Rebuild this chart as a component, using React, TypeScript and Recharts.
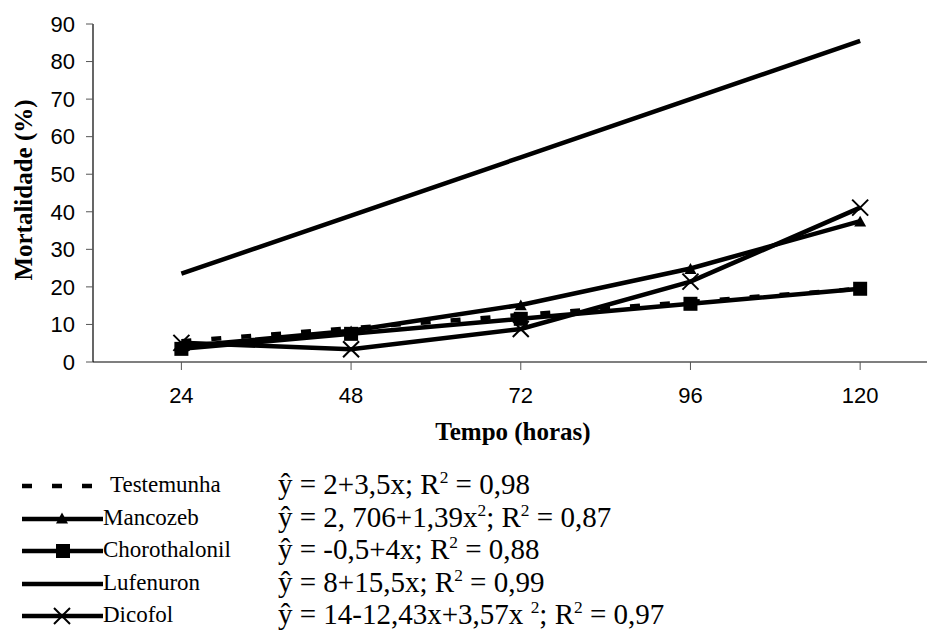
import { Label, Line, LineChart, XAxis, YAxis } from "recharts";

const hours = [24, 48, 72, 96, 120];
const yTicks = [0, 10, 20, 30, 40, 50, 60, 70, 80, 90];

const testemunha = [5.5, 9, 12.5, 16, 19.5];
const mancozeb = [4.1, 8.3, 15.2, 24.9, 37.5];
const chorothalonil = [3.5, 7.5, 11.5, 15.5, 19.5];
const lufenuron = [23.5, 39, 54.5, 70, 85.5];
const dicofol = [5.1, 3.4, 8.8, 21.4, 41.1];

const seriesNames = ["Testemunha", "Mancozeb", "Chorothalonil", "Lufenuron", "Dicofol"];

const data = hours.map((hour, i) => ({
  hour,
  testemunha: testemunha[i],
  mancozeb: mancozeb[i],
  chorothalonil: chorothalonil[i],
  lufenuron: lufenuron[i],
  dicofol: dicofol[i],
}));

const SERIF = "'Liberation Serif', 'DejaVu Serif', serif";
const SANS = "'Liberation Sans', Arial, sans-serif";
const LINE_W = 4.5;

function triangle(cx: number, cy: number, s: number) {
  const h = s * 0.9;
  return `M${cx},${cy - h / 2} L${cx + s / 2},${cy + h / 2} L${cx - s / 2},${cy + h / 2} Z`;
}

function TriangleDot(props: any) {
  const { cx, cy } = props;
  if (cx == null || cy == null) return null;
  return <path d={triangle(cx, cy, 12)} fill="#000" />;
}

function SquareDot(props: any) {
  const { cx, cy } = props;
  if (cx == null || cy == null) return null;
  return <rect x={cx - 7} y={cy - 7} width={14} height={14} fill="#000" />;
}

function CrossDot(props: any) {
  const { cx, cy } = props;
  if (cx == null || cy == null) return null;
  const r = 8;
  return (
    <path
      d={`M${cx - r},${cy - r} L${cx + r},${cy + r} M${cx - r},${cy + r} L${cx + r},${cy - r}`}
      stroke="#000"
      strokeWidth={2}
      fill="none"
    />
  );
}

function Swatch({ kind }: { kind: number }) {
  return (
    <svg width={90} height={20} style={{ position: "absolute", left: 18, top: -10 }}>
      {kind === 0 ? (
        <line x1={4} y1={10} x2={76} y2={10} stroke="#000" strokeWidth={LINE_W} strokeDasharray="10 20" />
      ) : (
        <line x1={4} y1={10} x2={85} y2={10} stroke="#000" strokeWidth={LINE_W} />
      )}
      {kind === 1 && <path d={triangle(44, 9, 12)} fill="#000" />}
      {kind === 2 && <rect x={38} y={3} width={14} height={14} fill="#000" />}
      {kind === 4 && (
        <path d="M36,2 L52,18 M36,18 L52,2" stroke="#000" strokeWidth={2} fill="none" />
      )}
    </svg>
  );
}

const sup = { fontSize: "0.6em", verticalAlign: "0.65em", lineHeight: 0 } as const;

const equations = [
  <>ŷ = 2+3,5x; R<span style={sup}>2</span> = 0,98</>,
  <>ŷ = 2, 706+1,39x<span style={sup}>2</span>; R<span style={sup}>2</span> = 0,87</>,
  <>ŷ = -0,5+4x; R<span style={sup}>2</span> = 0,88</>,
  <>ŷ = 8+15,5x; R<span style={sup}>2</span> = 0,99</>,
  <>ŷ = 14-12,43x+3,57x <span style={sup}>2</span>; R<span style={sup}>2</span> = 0,97</>,
];

const labelLeft = [110, 103, 103, 103, 103];

export default function App() {
  return (
    <div
      style={{
        position: "absolute",
        left: 0,
        top: 0,
        width: 927,
        height: 632,
        overflow: "hidden",
        background: "#fff",
      }}
    >
      <LineChart width={950} height={460} data={data} margin={{ top: 24, right: 5, left: 0, bottom: 0 }}>
        <XAxis
          type="number"
          dataKey="hour"
          domain={[11.5, 132]}
          ticks={hours}
          allowDataOverflow
          height={98}
          axisLine={{ stroke: "#000", strokeWidth: 1.2 }}
          tickLine={{ stroke: "#555" }}
          tickSize={8}
          tickMargin={17}
          tick={{ fill: "#000", fontSize: 22, fontFamily: SANS }}
        >
          <Label
            content={() => (
              <text
                x={513}
                y={440}
                textAnchor="middle"
                style={{ fontFamily: SERIF, fontWeight: "bold", fontSize: 25 }}
                fill="#000"
              >
                Tempo (horas)
              </text>
            )}
          />
        </XAxis>
        <YAxis
          width={93}
          domain={[0, 90]}
          ticks={yTicks}
          axisLine={{ stroke: "#000", strokeWidth: 1.2 }}
          tickLine={{ stroke: "#555" }}
          tickSize={7}
          tickMargin={11}
          tick={{ fill: "#000", fontSize: 22, fontFamily: SANS }}
        >
          <Label
            content={() => (
              <text
                x={0}
                y={0}
                transform="translate(32,190) rotate(-90)"
                textAnchor="middle"
                style={{ fontFamily: SERIF, fontWeight: "bold", fontSize: 25 }}
                fill="#000"
              >
                Mortalidade (%)
              </text>
            )}
          />
        </YAxis>
        <Line
          dataKey="testemunha"
          stroke="#000"
          strokeWidth={LINE_W}
          strokeDasharray="10 20"
          dot={false}
          isAnimationActive={false}
        />
        <Line dataKey="mancozeb" stroke="#000" strokeWidth={LINE_W} dot={<TriangleDot />} isAnimationActive={false} />
        <Line dataKey="chorothalonil" stroke="#000" strokeWidth={LINE_W} dot={<SquareDot />} isAnimationActive={false} />
        <Line dataKey="lufenuron" stroke="#000" strokeWidth={LINE_W} dot={false} isAnimationActive={false} />
        <Line dataKey="dicofol" stroke="#000" strokeWidth={LINE_W} dot={<CrossDot />} isAnimationActive={false} />
      </LineChart>

      {seriesNames.map((name, i) => (
        <div key={name} style={{ position: "absolute", left: 0, top: 486 + i * 32.5, height: 0 }}>
          <Swatch kind={i} />
          <span
            style={{
              position: "absolute",
              left: labelLeft[i],
              top: -15,
              fontFamily: SERIF,
              fontSize: 23,
              lineHeight: "28px",
              whiteSpace: "nowrap",
              color: "#000",
            }}
          >
            {name}
          </span>
          <span
            style={{
              position: "absolute",
              left: 278,
              top: -18,
              fontFamily: SERIF,
              fontSize: 29,
              lineHeight: "33px",
              whiteSpace: "nowrap",
              color: "#000",
            }}
          >
            {equations[i]}
          </span>
        </div>
      ))}
    </div>
  );
}
